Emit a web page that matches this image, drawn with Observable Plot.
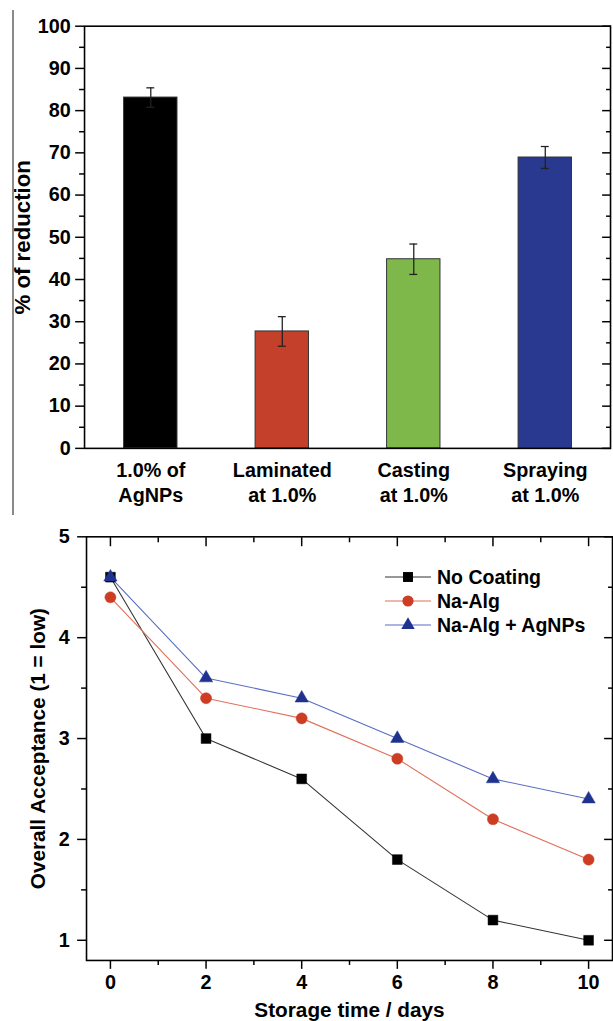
<!DOCTYPE html>
<html><head><meta charset="utf-8">
<script src="https://cdn.jsdelivr.net/npm/d3@7"></script>
<script src="https://cdn.jsdelivr.net/npm/@observablehq/plot@0.6"></script>
<style>
body{margin:0;background:#fff;width:613px;height:1021px;overflow:hidden;position:relative;font-family:"Liberation Sans",Arial,sans-serif;}
#top,#bottom{position:absolute;left:0}
#top{top:0}
#bottom{top:520px}
#border{position:absolute;left:12px;top:10px;width:2px;height:505px;background:#8a8a8a}
#legend{position:absolute;left:385px;top:565px;font:bold 19.5px "Liberation Sans",Arial,sans-serif;color:#000}
.row{display:flex;align-items:center;height:24px}
.row svg{margin-right:6px}
</style></head><body>
<div id="top"></div><div id="bottom"></div><div id="border"></div><div id="legend"></div>
<script>
// ---- Top panel data ----
const categories = ["1.0% of\nAgNPs", "Laminated\nat 1.0%", "Casting\nat 1.0%", "Spraying\nat 1.0%"];
const reduction = [83.1, 27.7, 44.8, 68.9];
const reductionErr = [2.3, 3.5, 3.6, 2.6];
const barColors = ["#000000", "#c4402a", "#7eb84a", "#28398f"];
const yTicksTop = [0, 10, 20, 30, 40, 50, 60, 70, 80, 90, 100];
const yMinorTop = [5, 15, 25, 35, 45, 55, 65, 75, 85, 95];

// ---- Bottom panel data ----
const days = [0, 2, 4, 6, 8, 10];
const seriesNames = ["No Coating", "Na-Alg", "Na-Alg + AgNPs"];
const noCoating = [4.6, 3.0, 2.6, 1.8, 1.2, 1.0];
const naAlg = [4.4, 3.4, 3.2, 2.8, 2.2, 1.8];
const naAlgAg = [4.6, 3.6, 3.4, 3.0, 2.6, 2.4];
const seriesValues = [noCoating, naAlg, naAlgAg];
const markerColors = ["#000000", "#cc3d24", "#1f3290"];
const lineColors = ["#333333", "#e0705a", "#5a6dc4"];
const symbols = ["square", "circle", "triangle"];
const markerR = [5.6, 5.6, 5.0];
const xTicksBottom = [0, 2, 4, 6, 8, 10];
const xMinorBottom = [1, 3, 5, 7, 9];
const yTicksBottom = [1, 2, 3, 4, 5];
const yMinorBottom = [1.5, 2.5, 3.5, 4.5];

const font = "bold 20px 'Liberation Sans', Arial, sans-serif";

const barData = categories.map((c, i) => ({cat: c, v: reduction[i], e: reductionErr[i], color: barColors[i]}));

const topChart = Plot.plot({
  width: 620, height: 520,
  marginLeft: 85, marginRight: 3, marginTop: 26, marginBottom: 67,
  style: {font, color: "#000", background: "transparent", overflow: "visible"},
  x: {domain: categories, paddingInner: 0.594, paddingOuter: 0.297, axis: null},
  y: {domain: [0, 100], axis: null},
  color: {type: "identity"},
  marks: [
    Plot.barY(barData, {x: "cat", y: "v", fill: "color", stroke: "#333", strokeWidth: 1}),
    Plot.ruleX(barData, {x: "cat", y1: d => d.v - d.e, y2: d => d.v + d.e, stroke: "#222", strokeWidth: 1.3}),
    Plot.tickY(barData, {x: "cat", y: d => d.v + d.e, stroke: "#222", strokeWidth: 1.3, insetLeft: 23, insetRight: 23}),
    Plot.tickY(barData, {x: "cat", y: d => d.v - d.e, stroke: "#222", strokeWidth: 1.3, insetLeft: 23, insetRight: 23}),
    Plot.axisX({tickSize: 0, tickPadding: 10, lineHeight: 1.3, label: null}),
    Plot.axisY({ticks: yTicksTop, tickSize: 9, tickPadding: 5, strokeWidth: 1.5, label: null}),
    Plot.axisY({ticks: [], label: "% of reduction", labelAnchor: "center", labelArrow: "none", labelOffset: 71, fontSize: 22.5}),
    Plot.axisY({ticks: yMinorTop, tickSize: 5, strokeWidth: 1.5, text: null, label: null}),
    Plot.axisY({anchor: "right", ticks: yTicksTop, tickSize: -9, strokeWidth: 1.5, text: null, label: null}),
    Plot.axisY({anchor: "right", ticks: yMinorTop, tickSize: -5, strokeWidth: 1.5, text: null, label: null}),
    Plot.frame({stroke: "#000", strokeWidth: 1.6})
  ]
});
document.getElementById("top").append(topChart);

const seriesData = seriesNames.map((s, k) => days.map((d, i) => ({series: s, day: d, v: seriesValues[k][i]})));

const bottomChart = Plot.plot({
  width: 620, height: 503,
  marginLeft: 87, marginRight: 1, marginTop: 16.5, marginBottom: 58,
  style: {font, color: "#000", background: "transparent", overflow: "visible"},
  x: {domain: [-0.5, 10.5], axis: null},
  y: {domain: [0.8, 5], axis: null},
  marks: [
    ...seriesData.map((data, k) => Plot.line(data, {x: "day", y: "v", stroke: lineColors[k], strokeWidth: 1.1})),
    ...seriesData.map((data, k) => Plot.dot(data, {x: "day", y: "v", symbol: symbols[k], r: markerR[k], fill: markerColors[k], stroke: markerColors[k], strokeWidth: 0.5})),
    Plot.axisX({ticks: xTicksBottom, tickSize: 9, tickPadding: 6, strokeWidth: 1.5, tickFormat: d => String(d), label: null}),
    Plot.axisX({ticks: [], label: "Storage time / days", labelAnchor: "center", labelArrow: "none", labelOffset: 57, fontSize: 21}),
    Plot.axisX({ticks: xMinorBottom, tickSize: 5, strokeWidth: 1.5, text: null, label: null}),
    Plot.axisX({anchor: "top", ticks: xTicksBottom, tickSize: -9, strokeWidth: 1.5, text: null, label: null}),
    Plot.axisX({anchor: "top", ticks: xMinorBottom, tickSize: -5, strokeWidth: 1.5, text: null, label: null}),
    Plot.axisY({ticks: yTicksBottom, tickSize: 9, tickPadding: 8, strokeWidth: 1.5, tickFormat: d => String(d), label: null}),
    Plot.axisY({ticks: [], label: "Overall Acceptance (1 = low)", labelAnchor: "center", labelArrow: "none", labelOffset: 57, fontSize: 21}),
    Plot.axisY({ticks: yMinorBottom, tickSize: 5, strokeWidth: 1.5, text: null, label: null}),
    Plot.axisY({anchor: "right", ticks: yTicksBottom, tickSize: -9, strokeWidth: 1.5, text: null, label: null}),
    Plot.axisY({anchor: "right", ticks: yMinorBottom, tickSize: -5, strokeWidth: 1.5, text: null, label: null}),
    Plot.frame({stroke: "#000", strokeWidth: 1.6})
  ]
});
document.getElementById("bottom").append(bottomChart);

// Legend (HTML)
const legend = document.getElementById("legend");
seriesNames.forEach((name, k) => {
  const row = document.createElement("div");
  row.className = "row";
  const svg = d3.create("svg").attr("width", 46).attr("height", 20);
  svg.append("line").attr("x1", 0).attr("x2", 46).attr("y1", 10).attr("y2", 10).attr("stroke", lineColors[k]).attr("stroke-width", 1.1);
  const sym = {square: d3.symbolSquare, circle: d3.symbolCircle, triangle: d3.symbolTriangle}[symbols[k]];
  svg.append("path").attr("transform", "translate(23,10)").attr("d", d3.symbol(sym, Math.PI * markerR[k] * markerR[k])()).attr("fill", markerColors[k]);
  row.append(svg.node());
  const span = document.createElement("span");
  span.textContent = name;
  row.append(span);
  legend.append(row);
});
</script>
</body></html>
